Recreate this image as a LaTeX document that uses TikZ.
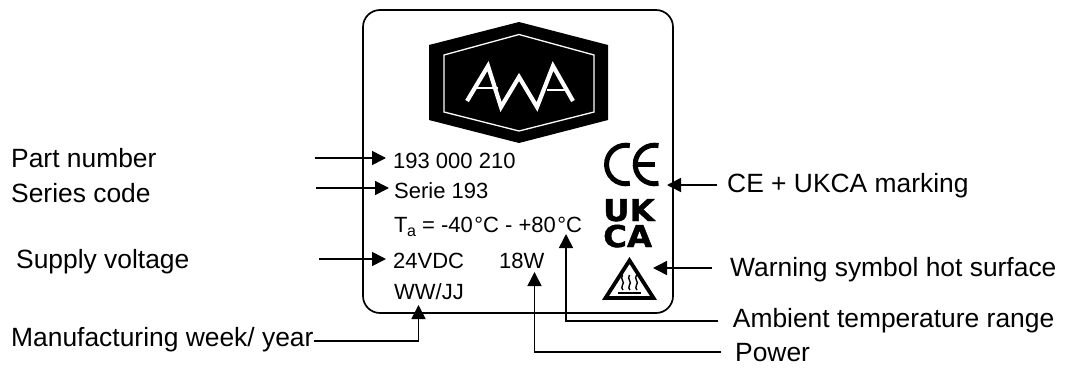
\documentclass[tikz,border=0pt]{standalone}
\usepackage{fontspec}
\setmainfont{Liberation Sans}
\newfontfamily\heavyfont{DejaVu Sans Bold}[FakeBold=1.5]
\usetikzlibrary{arrows.meta}
\tikzset{
  x=1pt,y=-1pt,
  outerlabel/.style={anchor=base west,inner sep=0pt,font=\fontsize{26.4}{30}\selectfont},
  platetext/.style={anchor=base west,inner sep=0pt,font=\fontsize{22}{26}\selectfont},
  pointer/.style={line width=1.6pt,-{Triangle[length=14pt,width=14pt]}},
  marking/.style={line width=3.8pt,black},
  ukca/.style={anchor=base west,inner sep=0pt,align=left,font=\heavyfont\fontsize{30}{26}\selectfont},
}
\begin{document}
\begin{tikzpicture}
\useasboundingbox (0,0) rectangle (1065,367);
% plate
\draw[line width=1.7pt,rounded corners=17pt] (363,10) rectangle (673,313);
% logo
\fill (519,22)--(608,45)--(608,120)--(519,143)--(429,120)--(429,45)--cycle;
\draw[white,line width=1.3pt] (519,34.5)--(594,55)--(594,112)--(519,131)--(444,112)--(444,55)--cycle;
\draw[white,line width=4.2pt,miter limit=10] (467,101)--(488,66)--(501,107)--(519,77)--(537,107)--(553,66)--(573,101);
\draw[white,line width=2.8pt] (475,88)--(498,88) (547,90)--(566,90);
% plate texts
\node[platetext] (pn) at (393,168) {193 000 210};
\node[platetext] (ser) at (394,198) {Serie 193};
\node[platetext] (ta) at (394,232.5) {T\kern-0.5pt\raisebox{-3.5pt}{\fontsize{16}{16}\selectfont a} = -40\kern1.5pt°C - +80\kern1.5pt°C};
\node[platetext] (volt) at (393,268) {24VDC};
\node[platetext] (watt) at (499,268) {18W};
\node[platetext] (week) at (394,299) {WW/JJ};
% CE mark
\draw[line width=5pt] (625.8,164.5) ++(-78:19.3) arc[start angle=-78,end angle=-282,radius=19.3];
\draw[line width=5pt] (654.5,164.5) ++(-78:19.3) arc[start angle=-78,end angle=-282,radius=19.3];
\draw[line width=4.4pt] (638,164.5)--(655,164.5);
% UKCA
\node[ukca,xscale=1.08] (ukca) at (603,247) {UK\\CA};
% hot surface
\draw[marking,line join=miter] (629.5,260.5)--(653.5,298)--(605.5,298)--cycle;
\draw[line width=1.6pt] (618,293)--(641,293);
\foreach \sx in {622.5,629.5,636.5}
  \draw[line width=1.4pt] (\sx,275) .. controls (\sx-3,279) and (\sx+3,282) .. (\sx,285) .. controls (\sx-2,287) and (\sx,289) .. (\sx+0.5,290);
% outer labels
\node[outerlabel] (lpn) at (11,167) {Part number};
\node[outerlabel] (lser) at (11,202) {Series code};
\node[outerlabel] (lvolt) at (16,268) {Supply voltage};
\node[outerlabel] (lweek) at (11,346) {Manufacturing week/ year};
\node[outerlabel] (lce) at (727,192.7) {CE + UKCA marking};
\node[outerlabel] (lhot) at (730,276.7) {Warning symbol hot surface};
\node[outerlabel] (lamb) at (732.7,327.7) {Ambient temperature range};
\node[outerlabel] (lpow) at (735,361) {Power};
% connector ends
\coordinate (s1) at (315,158); \coordinate (e1) at (386,158);
\coordinate (s2) at (315.5,188); \coordinate (e2) at (389,188);
\coordinate (s3) at (319,259); \coordinate (e3) at (386,259);
\coordinate (e4) at (418.5,305);
\coordinate (s5) at (717,185); \coordinate (e5) at (667,185);
\coordinate (s6) at (712,268); \coordinate (e6) at (653,268);
\coordinate (s7) at (718,321); \coordinate (e7) at (566,234);
\coordinate (s8) at (721,352); \coordinate (e8) at (534.5,272);
\draw[pointer] (s1)--(e1);
\draw[pointer] (s2)--(e2);
\draw[pointer] (s3)--(e3);
\draw[pointer] (lweek.east |- 0,341) -| (e4);
\draw[pointer] (s5)--(e5);
\draw[pointer] (s6)--(e6);
\draw[pointer] (s7) -| (e7);
\draw[pointer] (s8) -| (e8);
\end{tikzpicture}
\end{document}
